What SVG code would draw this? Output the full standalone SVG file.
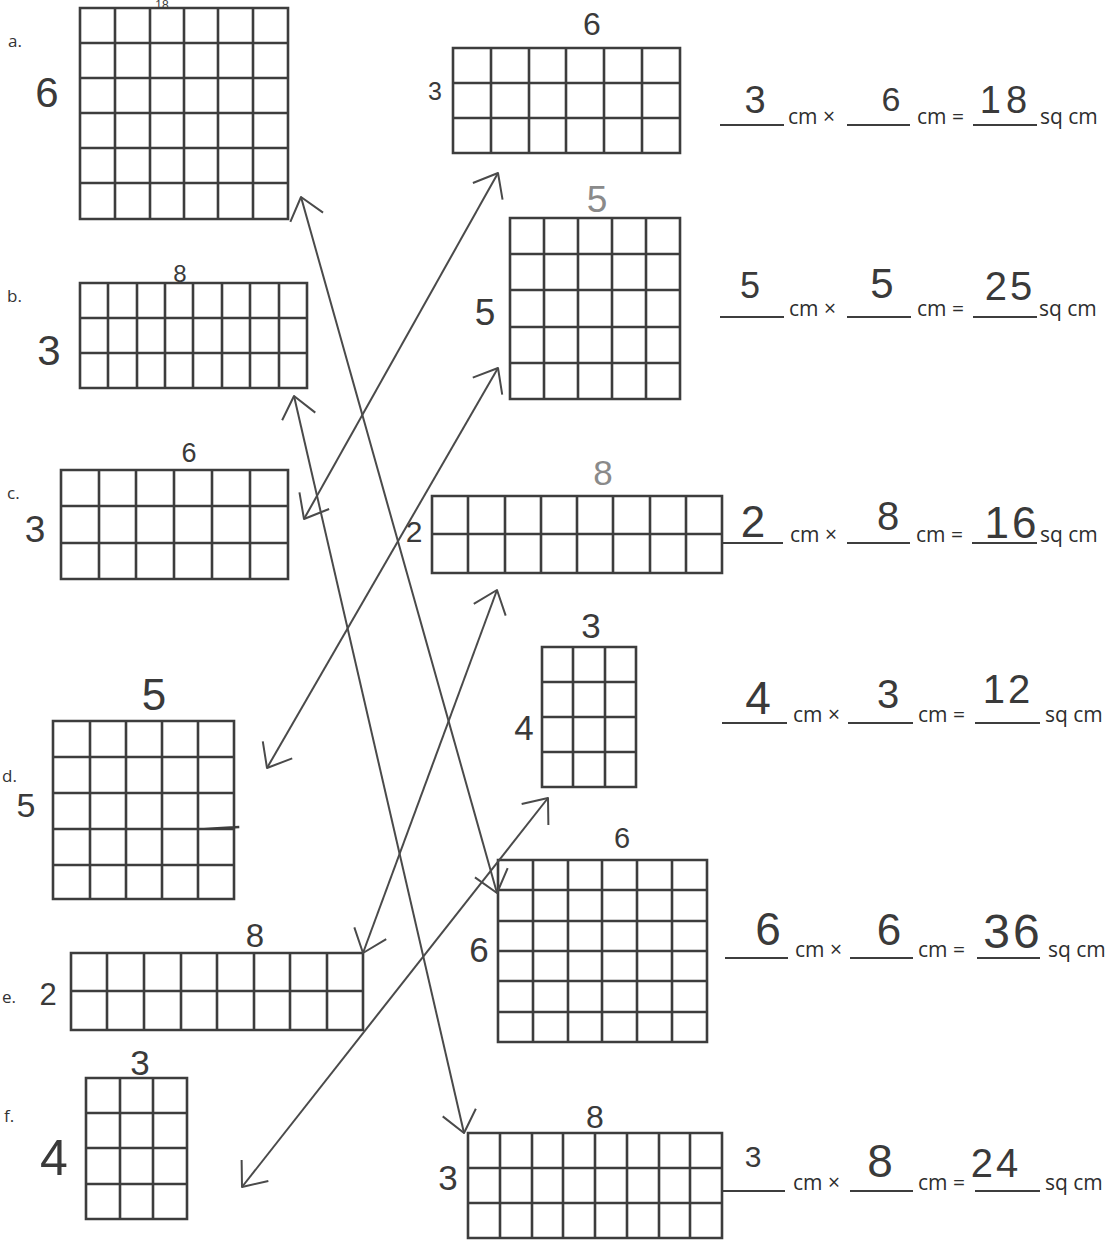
<svg xmlns="http://www.w3.org/2000/svg" width="1110" height="1247" viewBox="0 0 1110 1247">
<style>
.grid{fill:none;stroke:#3d3d3d;stroke-width:2.6;stroke-linecap:square}
.lbl{font-family:"Open Sans","Liberation Sans",sans-serif;font-size:17px;fill:#333333}
.hw{font-family:"Liberation Sans","DejaVu Sans",sans-serif;fill:#3a3a3a;text-anchor:middle}
.faint{fill:#8a8a8a}
.pt{font-family:"Open Sans","Liberation Sans",sans-serif;font-size:21px;fill:#2e2e2e}
.ul{stroke:#3d3d3d;stroke-width:2}
.conn{fill:none;stroke:#4a4a4a;stroke-width:2;marker-start:url(#vh);marker-end:url(#vh)}
</style>
<defs>
<marker id="vh" viewBox="-26 -22 30 44" refX="0" refY="0" markerWidth="30" markerHeight="44" markerUnits="userSpaceOnUse" orient="auto-start-reverse">
<path d="M-21,-17 L0,0 L-21,17" fill="none" stroke="#4a4a4a" stroke-width="2" stroke-linejoin="round"/>
</marker>
</defs>
<rect width="1110" height="1247" fill="#ffffff"/>

<g id="node-a">
<path class="grid" d="M80,8H288V219H80Z M115,8V219 M150,8V219 M184,8V219 M218,8V219 M253,8V219 M80,43H288 M80,78H288 M80,113H288 M80,148H288 M80,183H288"/>
<text class="lbl" x="8" y="47">a.</text>
<text class="hw" x="47" y="107" font-size="42">6</text>
<text class="hw" x="162" y="9" font-size="12">18</text>
</g>
<g id="node-b">
<path class="grid" d="M80,283H307V388H80Z M108,283V388 M137,283V388 M165,283V388 M193,283V388 M222,283V388 M250,283V388 M279,283V388 M80,318H307 M80,353H307"/>
<text class="lbl" x="7" y="302">b.</text>
<text class="hw" x="180" y="282" font-size="24">8</text>
<text class="hw" x="49" y="365" font-size="42">3</text>
</g>
<g id="node-c">
<path class="grid" d="M61,470H288V579H61Z M99,470V579 M136,470V579 M174,470V579 M212,470V579 M250,470V579 M61,506H288 M61,543H288"/>
<text class="lbl" x="7" y="499">c.</text>
<text class="hw" x="189" y="462" font-size="27">6</text>
<text class="hw" x="35" y="542" font-size="37">3</text>
</g>
<g id="node-d">
<path class="grid" d="M53,721H234V899H53Z M90,721V899 M126,721V899 M162,721V899 M198,721V899 M53,757H234 M53,793H234 M53,829H234 M53,865H234 M204,829L238,827"/>
<text class="lbl" x="2" y="782">d.</text>
<text class="hw" x="154" y="710" font-size="44">5</text>
<text class="hw" x="26" y="817" font-size="34">5</text>
</g>
<g id="node-e">
<path class="grid" d="M71,953H363V1030H71Z M107,953V1030 M144,953V1030 M181,953V1030 M217,953V1030 M254,953V1030 M290,953V1030 M327,953V1030 M71,991H363"/>
<text class="lbl" x="2" y="1003">e.</text>
<text class="hw" x="255" y="947" font-size="33">8</text>
<text class="hw" x="48" y="1005" font-size="31">2</text>
</g>
<g id="node-f">
<path class="grid" d="M86,1078H187V1219H86Z M120,1078V1219 M153,1078V1219 M86,1113H187 M86,1148H187 M86,1184H187"/>
<text class="lbl" x="4" y="1122">f.</text>
<text class="hw" x="140" y="1075" font-size="35">3</text>
<text class="hw" x="54" y="1175" font-size="50">4</text>
</g>

<g id="node-r1">
<path class="grid" d="M453,48H680V153H453Z M491,48V153 M529,48V153 M566,48V153 M604,48V153 M642,48V153 M453,83H680 M453,118H680"/>
<text class="hw" x="592" y="35" font-size="32">6</text>
<text class="hw" x="435" y="100" font-size="25">3</text>
</g>
<g id="node-r2">
<path class="grid" d="M510,218H680V399H510Z M544,218V399 M578,218V399 M612,218V399 M646,218V399 M510,254H680 M510,290H680 M510,327H680 M510,363H680"/>
<text class="hw faint" x="597" y="212" font-size="37">5</text>
<text class="hw" x="485" y="325" font-size="37">5</text>
</g>
<g id="node-r3">
<path class="grid" d="M432,496H722V573H432Z M468,496V573 M505,496V573 M541,496V573 M577,496V573 M613,496V573 M650,496V573 M686,496V573 M432,534H722"/>
<text class="hw faint" x="603" y="485" font-size="35">8</text>
<text class="hw" x="414" y="542" font-size="30">2</text>
</g>
<g id="node-r4">
<path class="grid" d="M542,647H636V787H542Z M573,647V787 M605,647V787 M542,682H636 M542,717H636 M542,752H636"/>
<text class="hw" x="591" y="638" font-size="35">3</text>
<text class="hw" x="524" y="740" font-size="35">4</text>
</g>
<g id="node-r5">
<path class="grid" d="M498,860H707V1042H498Z M533,860V1042 M568,860V1042 M602,860V1042 M637,860V1042 M672,860V1042 M498,890H707 M498,921H707 M498,951H707 M498,981H707 M498,1012H707"/>
<text class="hw" x="622" y="848" font-size="29">6</text>
<text class="hw" x="479" y="962" font-size="35">6</text>
</g>
<g id="node-r6">
<path class="grid" d="M468,1133H722V1238H468Z M500,1133V1238 M532,1133V1238 M563,1133V1238 M595,1133V1238 M627,1133V1238 M659,1133V1238 M690,1133V1238 M468,1168H722 M468,1203H722"/>
<text class="hw" x="595" y="1128" font-size="32">8</text>
<text class="hw" x="448" y="1190" font-size="35">3</text>
</g>

<g id="eq1">
<path class="ul" d="M720,125H784 M847,125H910 M973,125H1037"/>
<text class="pt" x="788" y="124">cm ×</text>
<text class="pt" x="917" y="124">cm =</text>
<text class="pt" x="1040" y="124">sq cm</text>
<text class="hw" x="755" y="113" font-size="38">3</text>
<text class="hw" x="891" y="111" font-size="34">6</text>
<text class="hw" x="1006" y="113" font-size="38" letter-spacing="5">18</text>
</g>
<g id="eq2">
<path class="ul" d="M720,317H784 M847,317H911 M973,317H1037"/>
<text class="pt" x="789" y="316">cm ×</text>
<text class="pt" x="917" y="316">cm =</text>
<text class="pt" x="1039" y="316">sq cm</text>
<text class="hw" x="750" y="298" font-size="36">5</text>
<text class="hw" x="882" y="298" font-size="42">5</text>
<text class="hw" x="1010" y="300" font-size="40" letter-spacing="3">25</text>
</g>
<g id="eq3">
<path class="ul" d="M722,543H783 M847,543H910 M972,543H1037"/>
<text class="pt" x="790" y="542">cm ×</text>
<text class="pt" x="916" y="542">cm =</text>
<text class="pt" x="1040" y="542">sq cm</text>
<text class="hw" x="753" y="537" font-size="44">2</text>
<text class="hw" x="888" y="530" font-size="40">8</text>
<text class="hw" x="1012" y="538" font-size="44" letter-spacing="3">16</text>
</g>
<g id="eq4">
<path class="ul" d="M722,723H787 M848,723H913 M975,723H1040"/>
<text class="pt" x="793" y="722">cm ×</text>
<text class="pt" x="918" y="722">cm =</text>
<text class="pt" x="1045" y="722">sq cm</text>
<text class="hw" x="758" y="714" font-size="46">4</text>
<text class="hw" x="888" y="708" font-size="40">3</text>
<text class="hw" x="1008" y="703" font-size="40" letter-spacing="3">12</text>
</g>
<g id="eq5">
<path class="ul" d="M725,958H788 M850,958H913 M977,958H1040"/>
<text class="pt" x="795" y="957">cm ×</text>
<text class="pt" x="918" y="957">cm =</text>
<text class="pt" x="1048" y="957">sq cm</text>
<text class="hw" x="768" y="945" font-size="46">6</text>
<text class="hw" x="889" y="945" font-size="44">6</text>
<text class="hw" x="1013" y="948" font-size="48" letter-spacing="3">36</text>
</g>
<g id="eq6">
<path class="ul" d="M722,1191H785 M850,1191H913 M975,1191H1040"/>
<text class="pt" x="793" y="1190">cm ×</text>
<text class="pt" x="918" y="1190">cm =</text>
<text class="pt" x="1045" y="1190">sq cm</text>
<text class="hw" x="753" y="1167" font-size="30">3</text>
<text class="hw" x="880" y="1177" font-size="46">8</text>
<text class="hw" x="996" y="1177" font-size="40" letter-spacing="3">24</text>
</g>

<g id="connectors">
<path class="conn" d="M301,197 L497,893"/>
<path class="conn" d="M294,396 L464,1133"/>
<path class="conn" d="M304,519 L498,173"/>
<path class="conn" d="M267,768 L498,368"/>
<path class="conn" d="M363,953 L497,590"/>
<path class="conn" d="M242,1187 L548,798"/>
</g>
</svg>
